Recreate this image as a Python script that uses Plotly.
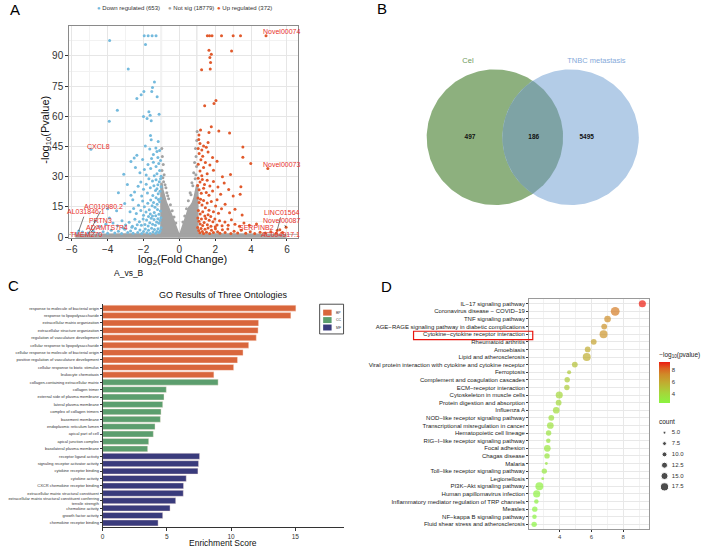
import numpy as np
import plotly.graph_objects as go

W, H = 708, 551
FONT = "Liberation Sans, Arial, sans-serif"


def PX(v):
    return v / W


def PY(v):
    return 1 - v / H


# ---------------- Panel A : volcano ----------------
legend_labels = ["Down regulated (653)", "Not sig (18779)", "Up regulated (372)"]

down_pts = [
    (-3.89, 97.7), (-1.96, 100), (-1.74, 100), (-1.52, 100), (-1.30, 100), (-1.89, 95.7),
    (-2.85, 83.5), (-1.39, 77.1), (-1.50, 74.3), (-1.98, 72.3), (-1.54, 72.3), (-2.13, 70.7),
    (-2.37, 68.9), (-1.24, 69.7), (-3.46, 63.0), (-1.70, 62.3), (-1.13, 61.0), (-2.00, 59.9),
    (-1.63, 60.5), (-1.80, 58.9), (-3.91, 57.6), (-1.57, 57.8), (-1.61, 50.4), (-1.18, 47.5),
    (-4.93, 43.6),
    (-1.31, 44.2), (-1.25, 42.5), (-1.45, 41.0), (-1.90, 45.2), (-1.57, 48.3), (-2.37, 40.6),
    (-2.52, 39.3), (-2.70, 37.5), (-1.10, 43.0), (-1.65, 43.8), (-1.20, 39.5),
    (-1.05, 38.0), (-1.15, 36.5), (-1.30, 35.0), (-1.45, 37.2), (-1.60, 34.0), (-1.75, 36.0),
    (-1.95, 33.5), (-2.20, 32.0), (-1.10, 33.0), (-1.25, 31.5), (-1.40, 30.5), (-1.85, 30.8),
    (-2.45, 34.5), (-3.10, 31.2), (-1.02, 30.2), (-1.55, 39.0), (-2.05, 38.5),
    (-1.05, 29.0), (-1.12, 27.5), (-1.20, 26.0), (-1.30, 28.5), (-1.42, 25.5), (-1.50, 27.8),
    (-1.62, 24.5), (-1.70, 28.9), (-1.85, 26.2), (-2.00, 23.8), (-2.15, 27.4), (-2.30, 25.2),
    (-2.50, 22.4), (-2.90, 26.1), (-1.08, 22.8), (-1.18, 21.5), (-1.33, 23.1), (-1.48, 20.6),
    (-1.78, 21.9), (-2.10, 20.4), (-3.40, 22.0), (-2.70, 20.8), (-1.02, 25.0), (-1.25, 24.0),
    (-1.04, 19.2), (-1.10, 17.5), (-1.17, 18.6), (-1.24, 16.3), (-1.30, 19.5), (-1.36, 14.8),
    (-1.44, 17.2), (-1.52, 15.6), (-1.60, 18.4), (-1.68, 13.5), (-1.76, 16.8), (-1.86, 12.4),
    (-1.95, 15.1), (-2.05, 17.9), (-2.15, 13.2), (-2.28, 15.8), (-2.40, 11.7), (-2.55, 14.2),
    (-2.75, 12.6), (-3.05, 16.7), (-3.50, 13.0), (-1.06, 12.9), (-1.14, 11.3), (-1.22, 13.7),
    (-1.32, 10.6), (-1.40, 12.2), (-1.50, 10.4), (-1.62, 11.5), (-1.72, 10.2), (-2.00, 10.8),
    (-2.60, 18.5), (-4.00, 14.0),
    (-1.03, 9.6), (-1.08, 8.2), (-1.14, 6.9), (-1.20, 9.1), (-1.27, 7.5), (-1.34, 5.8),
    (-1.41, 8.7), (-1.49, 6.4), (-1.57, 9.3), (-1.65, 7.1), (-1.74, 5.5), (-1.83, 8.4),
    (-1.92, 6.2), (-2.02, 9.0), (-2.12, 5.9), (-2.23, 7.6), (-2.35, 6.1), (-2.48, 8.8),
    (-2.62, 5.4), (-2.80, 7.3), (-3.00, 6.0), (-3.20, 8.1), (-3.45, 5.6), (-3.70, 7.0),
    (-4.10, 6.3), (-4.45, 5.2), (-4.70, 7.8), (-3.90, 9.4),
    (-1.02, 4.6), (-1.07, 3.1), (-1.13, 2.2), (-1.19, 4.1), (-1.25, 2.8), (-1.32, 1.9),
    (-1.39, 3.7), (-1.47, 2.5), (-1.55, 4.4), (-1.63, 1.7), (-1.72, 3.3), (-1.81, 2.1),
    (-1.90, 4.0), (-2.00, 2.7), (-2.10, 1.8), (-2.20, 3.5), (-2.32, 2.3), (-2.45, 4.2),
    (-2.58, 1.9), (-2.72, 3.0), (-2.88, 2.2), (-3.05, 3.8), (-3.22, 1.8), (-3.40, 2.9),
    (-3.60, 2.0), (-3.80, 3.4), (-4.00, 1.9), (-4.25, 2.6), (-4.50, 1.8), (-4.80, 2.9),
    (-5.10, 2.0), (-5.40, 2.5), (-5.70, 1.9), (-3.15, 4.6), (-2.65, 4.8), (-5.61, 3.0),
]

up_pts = [
    (1.56, 100), (1.68, 100), (1.82, 100), (2.35, 100), (3.00, 100), (3.41, 100), (4.83, 100),
    (1.65, 92.8), (2.91, 92.5), (1.78, 90.8), (1.70, 89.2), (1.74, 86.7), (1.24, 83.1),
    (1.72, 83.5), (2.04, 67.9), (1.93, 66.3), (1.41, 65.3), (1.78, 54.8), (1.18, 53.2),
    (2.20, 52.7), (1.65, 52.0), (2.80, 51.7), (1.09, 50.7), (3.54, 44.8), (3.54, 39.6),
    (3.98, 36.5), (2.85, 31.1), (3.43, 25.0), (3.39, 21.3), (4.93, 34.0),
    (1.15, 46.5), (1.35, 45.2), (1.05, 44.0), (1.25, 43.2), (1.50, 44.6), (1.10, 41.5),
    (1.30, 40.1), (1.60, 42.3), (1.20, 38.4), (1.45, 37.0), (1.85, 39.5), (1.05, 36.2),
    (1.35, 34.5), (1.70, 35.8), (2.10, 37.6), (1.15, 32.8), (1.55, 31.5), (1.90, 33.2),
    (1.25, 30.4), (2.40, 30.0), (1.08, 48.5), (1.60, 47.0),
    (1.05, 29.2), (1.15, 27.3), (1.28, 28.6), (1.40, 26.1), (1.55, 28.2), (1.70, 25.3),
    (1.90, 27.6), (2.15, 24.8), (2.50, 26.9), (1.10, 23.5), (1.22, 21.8), (1.35, 24.2),
    (1.50, 22.1), (1.65, 20.7), (1.85, 22.9), (2.30, 21.2), (2.75, 23.6), (1.02, 25.6),
    (3.00, 20.4),
    (1.04, 19.4), (1.10, 17.1), (1.18, 18.8), (1.26, 15.9), (1.35, 18.1), (1.45, 14.5),
    (1.55, 16.9), (1.65, 13.3), (1.78, 17.6), (1.90, 12.5), (2.02, 15.4), (2.18, 11.8),
    (2.35, 14.1), (2.55, 16.3), (2.80, 12.0), (3.10, 13.8), (1.06, 13.2), (1.16, 11.4),
    (1.30, 12.6), (1.42, 10.5), (1.60, 11.1), (1.75, 10.2), (2.10, 18.5), (3.50, 11.0),
    (1.03, 9.5), (1.09, 7.8), (1.16, 6.5), (1.23, 8.9), (1.30, 5.7), (1.38, 7.2),
    (1.47, 9.2), (1.56, 6.1), (1.66, 8.3), (1.76, 5.4), (1.87, 7.6), (1.98, 9.0),
    (2.10, 6.0), (2.24, 8.1), (2.38, 5.6), (2.54, 7.4), (2.72, 5.9), (2.90, 8.6),
    (3.10, 6.3), (3.35, 5.3), (3.60, 7.0), (3.90, 5.8), (4.30, 6.5), (2.00, 5.1),
    (1.02, 4.7), (1.08, 3.2), (1.14, 2.1), (1.21, 4.2), (1.28, 2.7), (1.35, 1.8),
    (1.43, 3.8), (1.51, 2.4), (1.60, 4.5), (1.69, 1.7), (1.79, 3.4), (1.90, 2.2),
    (2.01, 4.1), (2.13, 2.6), (2.26, 1.9), (2.40, 3.6), (2.55, 2.3), (2.70, 4.0),
    (2.87, 1.8), (3.05, 2.9), (3.25, 2.0), (3.45, 3.3), (3.70, 1.9), (3.95, 2.6),
    (4.20, 1.8), (4.50, 2.4), (4.80, 2.0), (5.10, 2.6), (5.40, 1.9), (5.75, 2.3),
    (5.95, 4.8), (5.60, 3.6), (5.45, 3.2),
]

# sparse grey points around the dense "not significant" cones
grey_pts = [
    (-0.98, 44.0), (-0.95, 40.0), (-0.90, 36.0), (-0.97, 33.0), (-0.85, 31.0), (-0.92, 29.5),
    (-0.80, 26.0), (-0.70, 22.0), (-0.60, 19.0), (-0.50, 16.0), (-0.40, 13.0), (-0.30, 10.0),
    (-0.20, 7.0), (-0.75, 24.5), (-0.65, 20.5), (-0.88, 27.5),
    (0.99, 52.5), (0.97, 48.0), (0.90, 44.0), (0.93, 40.0), (0.85, 37.0), (0.96, 35.0),
    (0.80, 32.0), (0.88, 29.0), (0.70, 27.0), (0.60, 22.0), (0.50, 18.0), (0.40, 14.0),
    (0.30, 10.5), (0.20, 7.5), (0.75, 25.5), (0.65, 21.0), (0.92, 31.0),
]

# outline of the dense grey cloud (x, -log10 p)
cone_pts = [
    (-1.0, 0.0), (-1.0, 27.0), (-0.95, 23.5), (-0.85, 19.5), (-0.75, 17.0), (-0.65, 15.0),
    (-0.55, 13.0), (-0.45, 11.0), (-0.35, 8.5), (-0.25, 6.0), (-0.15, 3.5), (-0.05, 1.2),
    (0.0, 0.0), (0.05, 1.2), (0.15, 4.0), (0.25, 6.5), (0.35, 9.5), (0.45, 12.5),
    (0.55, 14.5), (0.65, 15.5), (0.75, 17.0), (0.85, 19.5), (0.95, 23.5), (1.0, 26.0),
    (1.0, 0.0),
]
band_pts = [(-5.8, 0.0), (5.9, 0.0), (5.9, 0.9), (3.0, 1.25), (-3.0, 1.25), (-5.8, 0.9)]

gene_names = ["Novel00074", "Novel00073", "CXCL8", "AC010980.2", "AL031846.1", "PRTN3",
              "ADAMTS7P4", "TMEM270", "LINC01564", "Novel00087", "SERPINB2", "AC004917.1"]
gene_x = [4.83, 4.93, -4.93, -5.05, -5.61, -4.95, -4.80, -5.30, 5.45, 5.95, 4.80, 5.50]
gene_y = [100.1, 34.0, 43.6, 1.8, 3.0, 2.2, 2.0, 1.8, 3.2, 4.8, 2.0, 2.5]
label_x = [5.70, 5.70, -4.53, -4.25, -5.23, -4.39, -4.03, -5.20, 5.72, 5.71, 4.30, 5.64]
label_y = [102.0, 36.0, 45.2, 15.4, 12.6, 8.2, 4.9, 1.3, 12.3, 8.4, 4.8, 1.3]

# ---------------- Panel B : Venn ----------------
venn_sets = ["Cel", "TNBC metastasis"]
venn_counts = [497, 186, 5495]

# ---------------- Panel C : GO bars ----------------
go_terms = [
    "response to molecule of bacterial origin", "response to lipopolysaccharide",
    "extracellular matrix organization", "extracellular structure organization",
    "regulation of vasculature development", "cellular response to lipopolysaccharide",
    "cellular response to molecule of bacterial origin",
    "positive regulation of vasculature development", "cellular response to biotic stimulus",
    "leukocyte chemotaxis",
    "collagen-containing extracellular matrix", "collagen trimer",
    "external side of plasma membrane", "lateral plasma membrane", "complex of collagen trimers",
    "basement membrane", "endoplasmic reticulum lumen", "apical part of cell",
    "apical junction complex", "basolateral plasma membrane",
    "receptor ligand activity", "signaling receptor activator activity",
    "cytokine receptor binding", "cytokine activity", "CXCR chemokine receptor binding",
    "extracellular matrix structural constituent",
    "extracellular matrix structural constituent conferring<br>tensile strength",
    "chemokine activity", "growth factor activity", "chemokine receptor binding",
]
go_scores = [15.04, 14.65, 12.14, 12.10, 11.96, 11.37, 10.93, 10.50, 10.20, 8.66,
             8.99, 4.96, 4.78, 4.68, 4.55, 4.50, 4.08, 3.95, 3.59, 3.51,
             7.55, 7.47, 7.42, 6.51, 6.30, 6.28, 5.69, 5.25, 4.68, 4.32]
go_class = ["BP"] * 10 + ["CC"] * 10 + ["MF"] * 10
go_colors = {"BP": "#D9663C", "CC": "#5C9E6E", "MF": "#3A3B7C"}

# ---------------- Panel D : KEGG dots ----------------
kegg_terms = [
    "IL−17 signaling pathway", "Coronavirus disease − COVID−19", "TNF signaling pathway",
    "AGE−RAGE signaling pathway in diabetic complications",
    "Cytokine−cytokine receptor interaction", "Rheumatoid arthritis", "Amoebiasis",
    "Lipid and atherosclerosis",
    "Viral protein interaction with cytokine and cytokine receptor", "Ferroptosis",
    "Complement and coagulation cascades", "ECM−receptor interaction",
    "Cytoskeleton in muscle cells", "Protein digestion and absorption", "Influenza A",
    "NOD−like receptor signaling pathway", "Transcriptional misregulation in cancer",
    "Hematopoietic cell lineage", "RIG−I−like receptor signaling pathway", "Focal adhesion",
    "Chagas disease", "Malaria", "Toll−like receptor signaling pathway", "Legionellosis",
    "PI3K−Akt signaling pathway", "Human papillomavirus infection",
    "Inflammatory mediator regulation of TRP channels", "Measles",
    "NF−kappa B signaling pathway", "Fluid shear stress and atherosclerosis",
]
kegg_logp = [9.21, 7.50, 7.02, 6.81, 6.77, 6.15, 5.77, 5.71, 4.96, 4.60,
             4.48, 4.46, 3.98, 3.94, 3.79, 3.48, 3.42, 3.31, 3.29, 3.23,
             3.21, 3.17, 3.04, 2.94, 2.73, 2.56, 2.54, 2.44, 2.42, 2.40]
kegg_count = [15, 19, 14, 12, 17, 12, 12, 17, 12, 8,
              11, 11, 15, 12, 14, 12, 14, 11, 9, 14,
              11, 5, 11, 5, 17, 15, 9, 11, 9, 11]
count_breaks = [5.0, 7.5, 10.0, 12.5, 15.0, 17.5]


def dot_d(c):
    # size scale: count -> marker diameter (px)
    return 2.8 + (np.asarray(c, dtype=float) - 5.0) * 0.432


pcolors = [[0.0, "#8AF440"], [0.25, "#A6D53A"], [0.5, "#C1AC30"], [0.7, "#D08A28"],
           [0.85, "#DC6020"], [1.0, "#EC1B10"]]


def ann(x, y, text, size, color="#111", xanchor="center", yanchor="middle", **kw):
    d = dict(x=PX(x), y=PY(y), xref="paper", yref="paper", xanchor=xanchor, yanchor=yanchor,
             showarrow=False, text=text, font=dict(family=FONT, size=size, color=color))
    d.update(kw)
    return d


fig = go.Figure()

# ---- A traces ----
cx, cy = zip(*cone_pts)
bx, by = zip(*band_pts)
for px_, py_ in ((cx, cy), (bx, by)):
    fig.add_trace(go.Scatter(x=list(px_), y=list(py_), fill="toself", mode="lines",
                             fillcolor="#A3A3A3", line=dict(color="#A3A3A3", width=2.5),
                             showlegend=False, hoverinfo="skip", xaxis="x", yaxis="y"))
gx, gy = zip(*grey_pts)
fig.add_trace(go.Scatter(x=gx, y=gy, mode="markers", marker=dict(size=3, color="#A3A3A3"),
                         showlegend=False, xaxis="x", yaxis="y"))
dx, dy = zip(*down_pts)
fig.add_trace(go.Scatter(x=dx, y=dy, mode="markers", marker=dict(size=3, color="#74BADD"),
                         showlegend=False, xaxis="x", yaxis="y"))
ux, uy = zip(*up_pts)
fig.add_trace(go.Scatter(x=ux, y=uy, mode="markers", marker=dict(size=3, color="#E15A2C"),
                         showlegend=False, xaxis="x", yaxis="y"))

annotations = []
for n, x0, y0, tx, ty in zip(gene_names, gene_x, gene_y, label_x, label_y):
    annotations.append(dict(x=x0, y=y0, ax=tx, ay=ty, xref="x", yref="y", axref="x", ayref="y",
                            text=n, showarrow=True, arrowhead=0, arrowwidth=0.6,
                            arrowcolor="#222222", standoff=0, startstandoff=0,
                            xanchor="center", yanchor="middle",
                            font=dict(family=FONT, size=7, color="#E8302A")))

leg_cols = ["#74BADD", "#A3A3A3", "#E15A2C"]
leg_pos = [92, 164, 213]
for lab, col, p in zip(legend_labels, leg_cols, leg_pos):
    annotations.append(ann(p, 8, f'<span style="color:{col}">●</span> {lab}', 6,
                           color="#333333", xanchor="left"))

annotations += [
    ann(180, 262, "log<sub>2</sub>(Fold Change)", 11),
    ann(127, 275, "A_vs_B", 8.5),
    ann(43, 131, "-log<sub>10</sub>(Pvalue)", 11, textangle=-90),
]

shapes = []
for xv in (-1, 1):
    shapes.append(dict(type="line", xref="x", yref="y domain", x0=xv, x1=xv, y0=0, y1=1,
                       line=dict(color="#B5B5B5", width=1.2), layer="below"))
shapes.append(dict(type="line", xref="x domain", yref="y", x0=0, x1=1, y0=1.3, y1=1.3,
                   line=dict(color="#B5B5B5", width=1.0), layer="below"))

# ---- B traces (Venn) ----
R = 1.0
c_off = 0.555
t = np.linspace(0, 2 * np.pi, 241)
fig.add_trace(go.Scatter(x=-c_off + R * np.cos(t), y=R * np.sin(t), fill="toself", mode="lines",
                         fillcolor="#8DB07E", line=dict(width=0), showlegend=False,
                         hoverinfo="skip", xaxis="x2", yaxis="y2"))
fig.add_trace(go.Scatter(x=c_off + R * np.cos(t), y=R * np.sin(t), fill="toself", mode="lines",
                         fillcolor="#B3CCE7", line=dict(width=0), showlegend=False,
                         hoverinfo="skip", xaxis="x2", yaxis="y2"))
half = np.arccos(c_off / R)
a1 = np.linspace(np.pi - half, np.pi + half, 80)
a2 = np.linspace(-half, half, 80)
lens_x = np.concatenate([c_off + R * np.cos(a1), -c_off + R * np.cos(a2)])
lens_y = np.concatenate([R * np.sin(a1), R * np.sin(a2)])
fig.add_trace(go.Scatter(x=lens_x, y=lens_y, fill="toself", mode="lines", fillcolor="#7EA3A5",
                         line=dict(width=0), showlegend=False, hoverinfo="skip",
                         xaxis="x2", yaxis="y2"))
fig.add_trace(go.Scatter(x=[-0.92, 0.015, 0.79], y=[0, 0, 0], mode="text",
                         text=[f"<b>{v}</b>" for v in venn_counts],
                         textfont=dict(family=FONT, size=6.5, color="#111"),
                         showlegend=False, xaxis="x2", yaxis="y2"))
fig.add_trace(go.Scatter(x=[-0.95, 0.934], y=[1.117, 1.117], mode="text", text=venn_sets,
                         textfont=dict(family=FONT, size=7.5, color=["#6F9A5C", "#86AADA"]),
                         showlegend=False, xaxis="x2", yaxis="y2"))

# ---- C traces (GO bars) ----
fig.add_trace(go.Bar(x=go_scores, y=go_terms, orientation="h", width=0.8,
                     marker=dict(color=[go_colors[c] for c in go_class],
                                 line=dict(color="rgba(255,235,225,0.7)", width=0.6)),
                     showlegend=False, xaxis="x3", yaxis="y3"))
annotations.append(ann(221, 298, "GO Results of Three Ontologies", 9))
annotations.append(ann(221, 548, "Enrichment Score", 8.5))
# legend box for C
shapes.append(dict(type="rect", xref="paper", yref="paper", x0=PX(318), x1=PX(342),
                   y0=PY(337), y1=PY(307), line=dict(color="#222", width=0.8)))
for i, k in enumerate(["BP", "CC", "MF"]):
    top = 312.5 + i * 7.5
    shapes.append(dict(type="rect", xref="paper", yref="paper", x0=PX(321.5), x1=PX(330),
                       y0=PY(top + 6), y1=PY(top), fillcolor=go_colors[k], line=dict(width=0)))
    annotations.append(ann(332.5, top + 3, k, 3.5, color="#333", xanchor="left"))

# ---- D traces (KEGG dots) ----
fig.add_trace(go.Scatter(x=kegg_logp, y=kegg_terms, mode="markers",
                         marker=dict(size=dot_d(kegg_count), color=kegg_logp,
                                     colorscale=pcolors, cmin=2.4, cmax=9.21,
                                     line=dict(width=0),
                                     colorbar=dict(x=PX(659), xanchor="left", xpad=0, ypad=0,
                                                   y=PY(379.5), yanchor="middle",
                                                   len=54.4 / H, lenmode="fraction",
                                                   thickness=11, outlinewidth=0,
                                                   tickvals=[4, 6, 8], ticks="",
                                                   tickfont=dict(family=FONT, size=6, color="#333"),
                                                   title=dict(text="−log<sub>10</sub>(pvalue)",
                                                              side="top",
                                                              font=dict(family=FONT, size=6.5,
                                                                        color="#222")))),
                         showlegend=False, xaxis="x4", yaxis="y4"))
count_labels = [f"{v:.1f}" for v in count_breaks]
fig.add_trace(go.Scatter(x=[0.207] * 6, y=count_labels, mode="markers",
                         marker=dict(size=dot_d(count_breaks), color="#000"),
                         showlegend=False, xaxis="x5", yaxis="y5"))
fig.add_trace(go.Scatter(x=[0.37] * 6, y=count_labels, mode="text", text=count_labels,
                         textposition="middle right",
                         textfont=dict(family=FONT, size=6, color="#333"),
                         showlegend=False, xaxis="x5", yaxis="y5"))
annotations.append(ann(657, 425, "count", 6.5, color="#222", xanchor="left"))
shapes.append(dict(type="rect", xref="paper", yref="paper", x0=PX(412.3), x1=PX(532),
                   y0=PY(342.7), y1=PY(334.3), line=dict(color="#E8140C", width=1.2)))

# panel letters
for L, (lx, ly) in zip("ABCD", [(12.5, 10), (381, 9), (11, 288), (385, 289)]):
    annotations.append(ann(lx, ly, L, 15, color="#000"))

tickf = dict(family=FONT, size=10, color="#333")
fig.update_layout(
    width=W, height=H, margin=dict(l=0, r=0, t=0, b=0), autosize=False,
    paper_bgcolor="white", plot_bgcolor="white", showlegend=False,
    font=dict(family=FONT),
    xaxis=dict(domain=[PX(66), PX(296)], range=[-6.17, 6.6], tickvals=list(range(-6, 7, 2)),
               ticks="outside", ticklen=2.5, tickcolor="#333", tickfont=tickf,
               showline=True, mirror=True, linecolor="#8A8A8A", linewidth=1,
               showgrid=True, gridcolor="#E6E6E6", gridwidth=0.8, zeroline=False,
               minor=dict(dtick=1, showgrid=True, gridcolor="#F2F2F2", gridwidth=0.5),
               anchor="y"),
    yaxis=dict(domain=[PY(240), PY(26)], range=[-0.4, 105], tickvals=list(range(0, 91, 15)),
               ticks="outside", ticklen=2.5, tickcolor="#333", tickfont=tickf,
               showline=True, mirror=True, linecolor="#8A8A8A", linewidth=1,
               showgrid=True, gridcolor="#E6E6E6", gridwidth=0.8, zeroline=False,
               minor=dict(dtick=7.5, showgrid=True, gridcolor="#F2F2F2", gridwidth=0.5),
               anchor="x"),
    xaxis2=dict(domain=[PX(382), PX(682)], range=[-150 / 68.5, 150 / 68.5], visible=False,
                anchor="y2"),
    yaxis2=dict(domain=[PY(258.5), PY(18.5)], range=[-120 / 68.5, 120 / 68.5], visible=False,
                anchor="x2"),
    xaxis3=dict(domain=[PX(100), PX(342)], range=[0, 18.75], tickvals=[0, 5, 10, 15],
                ticks="outside", ticklen=2.5, tickcolor="#333",
                tickfont=dict(family=FONT, size=6.5, color="#333"),
                showline=True, linecolor="#333", linewidth=0.8, showgrid=False,
                zeroline=False, anchor="y3"),
    yaxis3=dict(domain=[PY(532.2), PY(306.5)], type="category", categoryorder="array",
                categoryarray=go_terms, range=[len(go_terms) - 1 + 0.6, -0.6],
                ticks="outside", ticklen=2, tickcolor="#333",
                tickfont=dict(family=FONT, size=4, color="#333"),
                showline=True, linecolor="#333", linewidth=0.8, showgrid=False,
                anchor="x3"),
    xaxis4=dict(domain=[PX(528.3), PX(648.3)], range=[2.08, 9.6], tickvals=[4, 6, 8],
                ticks="outside", ticklen=2, tickcolor="#333",
                tickfont=dict(family=FONT, size=6, color="#444"),
                showline=True, mirror=True, linecolor="#9A9A9A", linewidth=0.8,
                showgrid=True, gridcolor="#E8E8E8", gridwidth=0.7, zeroline=False,
                minor=dict(tickvals=[3, 5, 7, 9], showgrid=True, gridcolor="#F2F2F2",
                           gridwidth=0.4),
                anchor="y4"),
    yaxis4=dict(domain=[PY(534), PY(301.7)], type="category", categoryorder="array",
                categoryarray=kegg_terms, range=[len(kegg_terms) - 1 + 0.63, -0.63],
                ticks="outside", ticklen=2, tickcolor="#333",
                tickfont=dict(family=FONT, size=6, color="#222"),
                showline=True, mirror=True, linecolor="#9A9A9A", linewidth=0.8,
                showgrid=True, gridcolor="#E8E8E8", gridwidth=0.7, anchor="x4"),
    xaxis5=dict(domain=[PX(655), PX(700)], range=[0, 1], visible=False, anchor="y5"),
    yaxis5=dict(domain=[PY(497), PY(431)], type="category", categoryorder="array",
                categoryarray=count_labels, range=[5.52, -0.52], visible=False, anchor="x5"),
    annotations=annotations, shapes=shapes,
)

fig.write_html("out.html")
